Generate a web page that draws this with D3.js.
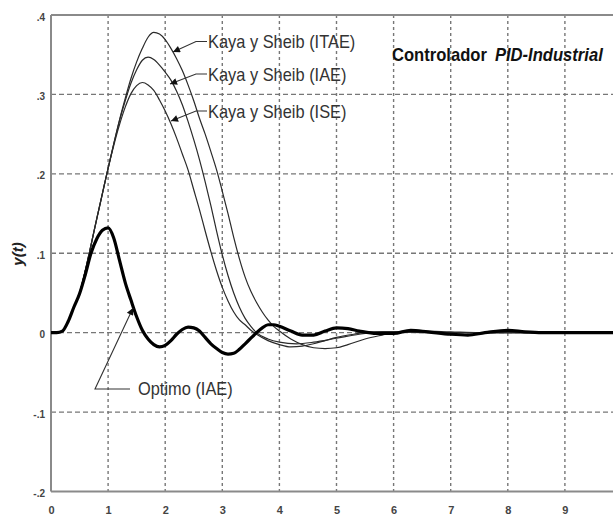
<!DOCTYPE html>
<html>
<head>
<meta charset="utf-8">
<script src="https://cdn.jsdelivr.net/npm/d3@7/dist/d3.min.js"></script>
<style>
  html, body { margin: 0; padding: 0; background: #fff; }
  svg { display: block; }
  text { font-family: "Liberation Sans", Arial, sans-serif; }
</style>
</head>
<body>
<svg id="chart" width="613" height="516"></svg>
<script>
// Step responses y(t) to a load disturbance, PID-Industrial controller
const xTicks = [0, 1, 2, 3, 4, 5, 6, 7, 8, 9];
const yTicks = [-0.2, -0.1, 0, 0.1, 0.2, 0.3, 0.4];
const yTickLabels = ["-.2", "-.1", "0", ".1", ".2", ".3", ".4"];

// [t, y(t)]
const optimoIAE = [
  [0, 0], [0.1, 0], [0.2, 0.002], [0.3, 0.014], [0.4, 0.032], [0.5, 0.049], [0.6, 0.073],
  [0.7, 0.100], [0.8, 0.118], [0.9, 0.129], [1.0, 0.132], [1.1, 0.119], [1.2, 0.091],
  [1.3, 0.063], [1.4, 0.041], [1.5, 0.020], [1.6, 0.003], [1.7, -0.008], [1.8, -0.015],
  [1.9, -0.018], [2.0, -0.016], [2.1, -0.010], [2.2, -0.002], [2.3, 0.004], [2.4, 0.007],
  [2.5, 0.006], [2.6, 0.002], [2.7, -0.006], [2.8, -0.014], [2.9, -0.020], [3.0, -0.025],
  [3.1, -0.027], [3.2, -0.026], [3.3, -0.021], [3.4, -0.014], [3.5, -0.007], [3.6, 0.000],
  [3.7, 0.006], [3.8, 0.010], [3.9, 0.010], [4.0, 0.008], [4.2, 0.002], [4.4, -0.003],
  [4.6, -0.003], [4.8, 0.002], [5.0, 0.006], [5.2, 0.005], [5.4, 0.002], [5.7, -0.001],
  [6.0, -0.001], [6.3, 0.003], [6.6, 0.001], [7.0, -0.002], [7.3, -0.003], [7.6, 0.000],
  [8.0, 0.003], [8.3, 0.001], [8.6, 0], [10, 0]
];

const kayaISE = [
  [0, 0], [0.1, 0], [0.2, 0.002], [0.3, 0.014], [0.4, 0.032], [0.5, 0.050], [0.6, 0.078],
  [0.7, 0.110], [0.8, 0.143], [0.9, 0.175], [1.0, 0.207], [1.1, 0.236], [1.2, 0.262],
  [1.3, 0.284], [1.4, 0.301], [1.5, 0.311], [1.6, 0.315], [1.7, 0.312], [1.8, 0.305],
  [1.9, 0.293], [2.0, 0.279], [2.1, 0.263], [2.2, 0.245], [2.3, 0.225], [2.4, 0.205],
  [2.5, 0.180], [2.6, 0.155], [2.7, 0.128], [2.8, 0.102], [2.9, 0.078], [3.0, 0.057],
  [3.1, 0.040], [3.2, 0.026], [3.3, 0.016], [3.4, 0.010], [3.5, 0.003], [3.6, -0.002],
  [3.8, -0.010], [4.0, -0.015], [4.2, -0.018], [4.4, -0.017], [4.6, -0.014], [4.8, -0.010],
  [5.0, -0.006], [5.3, -0.002], [5.6, 0.001], [6.0, 0.001], [6.5, 0], [10, 0]
];

const kayaIAE = [
  [0, 0], [0.1, 0], [0.2, 0.002], [0.3, 0.014], [0.4, 0.032], [0.5, 0.050], [0.6, 0.078],
  [0.7, 0.110], [0.8, 0.143], [0.9, 0.175], [1.0, 0.207], [1.1, 0.238], [1.2, 0.267],
  [1.3, 0.292], [1.4, 0.314], [1.5, 0.331], [1.6, 0.343], [1.7, 0.347], [1.8, 0.344],
  [1.9, 0.337], [2.0, 0.328], [2.1, 0.318], [2.2, 0.304], [2.3, 0.287], [2.4, 0.266],
  [2.5, 0.243], [2.6, 0.218], [2.7, 0.190], [2.8, 0.160], [2.9, 0.128], [3.0, 0.098],
  [3.1, 0.072], [3.2, 0.050], [3.3, 0.032], [3.4, 0.018], [3.5, 0.008], [3.6, 0.000],
  [3.8, -0.008], [4.0, -0.012], [4.3, -0.014], [4.6, -0.012], [5.0, -0.007], [5.4, -0.002],
  [5.8, 0.001], [6.2, 0.001], [7.0, 0], [10, 0]
];

const kayaITAE = [
  [0, 0], [0.1, 0], [0.2, 0.002], [0.3, 0.014], [0.4, 0.032], [0.5, 0.050], [0.6, 0.078],
  [0.7, 0.110], [0.8, 0.143], [0.9, 0.175], [1.0, 0.207], [1.1, 0.238], [1.2, 0.268],
  [1.3, 0.295], [1.4, 0.320], [1.5, 0.341], [1.6, 0.358], [1.7, 0.372], [1.8, 0.378],
  [1.9, 0.376], [2.0, 0.369], [2.1, 0.358], [2.2, 0.345], [2.3, 0.330], [2.4, 0.312],
  [2.5, 0.292], [2.6, 0.270], [2.7, 0.250], [2.8, 0.228], [2.9, 0.205], [3.0, 0.178],
  [3.1, 0.150], [3.2, 0.120], [3.3, 0.093], [3.4, 0.070], [3.5, 0.052], [3.6, 0.038],
  [3.7, 0.026], [3.8, 0.016], [3.9, 0.008], [4.0, 0.002], [4.2, -0.008], [4.4, -0.015],
  [4.6, -0.019], [4.8, -0.020], [5.0, -0.019], [5.2, -0.015], [5.5, -0.008], [5.8, -0.003],
  [6.0, 0.000], [6.5, 0.002], [7.0, 0.001], [7.5, 0], [10, 0]
];

const seriesLabels = ["Kaya y Sheib (ITAE)", "Kaya y Sheib (IAE)", "Kaya y Sheib (ISE)", "Optimo (IAE)"];
const titleParts = ["Controlador", "PID-Industrial"];
const yLabel = "y(t)";

const svg = d3.select("#chart");
const W = 613;

const x = d3.scaleLinear().domain([0, 10]).range([51, 622]);
const y = d3.scaleLinear().domain([-0.2, 0.4]).range([491.5, 15]);

const gridColor = "#777";
const frameColor = "#8a8a8a";

// dashed grid
const grid = svg.append("g");
grid.selectAll("line.v")
  .data(xTicks.filter(d => d > 0))
  .join("line")
  .attr("x1", d => x(d)).attr("x2", d => x(d))
  .attr("y1", y(0.4)).attr("y2", y(-0.2))
  .attr("stroke", gridColor).attr("stroke-width", 1.4)
  .attr("stroke-dasharray", "3,3");
grid.selectAll("line.h")
  .data(yTicks.filter(d => d > -0.2 && d < 0.4))
  .join("line")
  .attr("x1", x(0)).attr("x2", W)
  .attr("y1", d => y(d)).attr("y2", d => y(d))
  .attr("stroke", gridColor).attr("stroke-width", 1.4)
  .attr("stroke-dasharray", "5,3");

// frame: left axis, top border, bottom axis
const frame = svg.append("g").attr("stroke", frameColor).attr("stroke-width", 2);
frame.append("line").attr("x1", x(0)).attr("x2", x(0)).attr("y1", y(0.4)).attr("y2", y(-0.2));
frame.append("line").attr("x1", x(0)).attr("x2", W).attr("y1", y(0.4)).attr("y2", y(0.4));
frame.append("line").attr("x1", x(0)).attr("x2", W).attr("y1", y(-0.2)).attr("y2", y(-0.2));

// tick labels through d3 axes
const xAxis = svg.append("g")
  .attr("transform", `translate(0,${y(-0.2)})`)
  .call(d3.axisBottom(x).tickValues(xTicks).tickSize(0).tickPadding(15).tickFormat(d3.format("d")));
xAxis.select(".domain").remove();
xAxis.selectAll("text").attr("font-size", 11).attr("fill", "#444").attr("font-weight", "bold")
  .attr("font-family", "Liberation Sans, Arial, sans-serif");

const yAxis = svg.append("g")
  .attr("transform", `translate(${x(0)},0)`)
  .call(d3.axisLeft(y).tickValues(yTicks).tickSize(0).tickPadding(6)
    .tickFormat((d, i) => yTickLabels[i]));
yAxis.select(".domain").remove();
yAxis.selectAll("text").attr("font-size", 10).attr("fill", "#444").attr("font-weight", "bold")
  .attr("dy", "0.5em")
  .attr("font-family", "Liberation Sans, Arial, sans-serif");

svg.append("text")
  .attr("transform", "translate(23,254) rotate(-90)")
  .attr("text-anchor", "middle")
  .attr("font-size", 15).attr("font-weight", "bold").attr("font-style", "italic")
  .attr("fill", "#222")
  .text(yLabel);

// response curves
const line = d3.line().x(d => x(d[0])).y(d => y(d[1])).curve(d3.curveMonotoneX);
const curves = svg.append("g").attr("fill", "none");
[kayaISE, kayaIAE, kayaITAE].forEach(s => {
  curves.append("path").datum(s).attr("d", line)
    .attr("stroke", "#2a2a2a").attr("stroke-width", 1.2);
});
curves.append("path").datum(optimoIAE).attr("d", line)
  .attr("stroke", "#000").attr("stroke-width", 3.2).attr("stroke-linejoin", "round");

// annotation leaders with filled arrowheads
svg.append("defs").append("marker")
  .attr("id", "head").attr("viewBox", "0 0 10 10")
  .attr("refX", 10).attr("refY", 5)
  .attr("markerWidth", 11).attr("markerHeight", 7)
  .attr("markerUnits", "userSpaceOnUse")
  .attr("orient", "auto")
  .append("path").attr("d", "M0,0 L10,5 L0,10 Z").attr("fill", "#111");

const leaders = [
  { pts: [[207, 41.5], [196, 41.5], [173, 52]], text: seriesLabels[0], tx: 208, ty: 47.5 },
  { pts: [[207, 74], [196, 74], [170, 84]], text: seriesLabels[1], tx: 208, ty: 81 },
  { pts: [[207, 111], [196, 111], [171, 121]], text: seriesLabels[2], tx: 208, ty: 118 },
  { pts: [[130, 389], [95, 389], [133, 308]], text: seriesLabels[3], tx: 138, ty: 395 }
];
const ann = svg.append("g");
leaders.forEach(l => {
  ann.append("path")
    .attr("d", d3.line()(l.pts))
    .attr("fill", "none").attr("stroke", "#333").attr("stroke-width", 1.1)
    .attr("marker-end", "url(#head)");
  ann.append("text")
    .attr("transform", `translate(${l.tx},${l.ty}) scale(1,1.12)`)
    .attr("font-size", 16.4).attr("fill", "#333")
    .text(l.text);
});

// controller title
const title = svg.append("text")
  .attr("transform", "translate(392,61) scale(1,1.06)")
  .attr("font-size", 16.6).attr("font-weight", "bold").attr("fill", "#111");
title.append("tspan").text(titleParts[0]);
title.append("tspan").attr("dx", 8).attr("font-style", "italic").text(titleParts[1]);
</script>
</body>
</html>
